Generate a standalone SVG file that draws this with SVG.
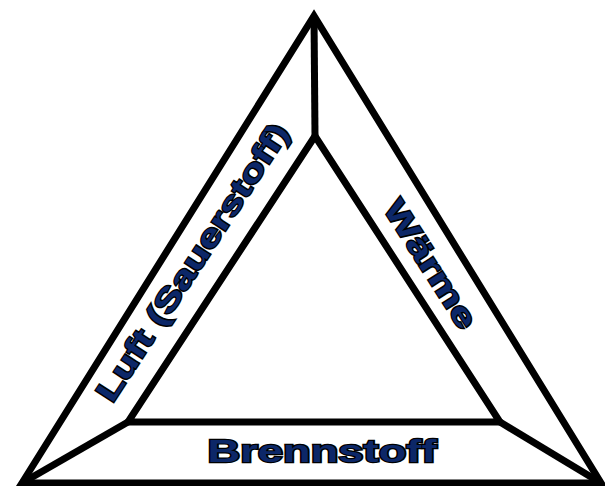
<svg xmlns="http://www.w3.org/2000/svg" width="605" height="486" viewBox="0 0 605 486">
  <style>
    .edge { fill: none; stroke: #000; stroke-width: 7; stroke-linejoin: miter; stroke-miterlimit: 20; }
    .lbl { font-family: "Liberation Sans", Arial, sans-serif; font-weight: bold; font-size: 31px; fill: #0c2768; stroke: #000; stroke-width: 2.4; paint-order: stroke; text-anchor: middle; }
  </style>
  <rect width="605" height="486" fill="#fff"/>
  <g id="outer-triangle">
    <polygon class="edge" points="22,483 314,16 601,483"/>
  </g>
  <g id="inner-triangle">
    <polygon class="edge" points="128,422 315,136 500,422"/>
  </g>
  <g id="connectors">
    <line class="edge" x1="314" y1="16" x2="315" y2="136"/>
    <line class="edge" x1="22" y1="483" x2="128" y2="422"/>
    <line class="edge" x1="601" y1="483" x2="500" y2="422"/>
  </g>
  <g id="luft">
    <text class="lbl" transform="translate(192,262) rotate(-56.8)" x="0" y="11" textLength="325" lengthAdjust="spacingAndGlyphs">Luft (Sauerstoff)</text>
  </g>
  <g id="waerme">
    <text class="lbl" transform="translate(431,264) rotate(57.5)" x="0" y="11" textLength="146" lengthAdjust="spacingAndGlyphs">Wärme</text>
  </g>
  <g id="brennstoff">
    <text class="lbl" x="322" y="462" textLength="229" lengthAdjust="spacingAndGlyphs">Brennstoff</text>
  </g>
</svg>
